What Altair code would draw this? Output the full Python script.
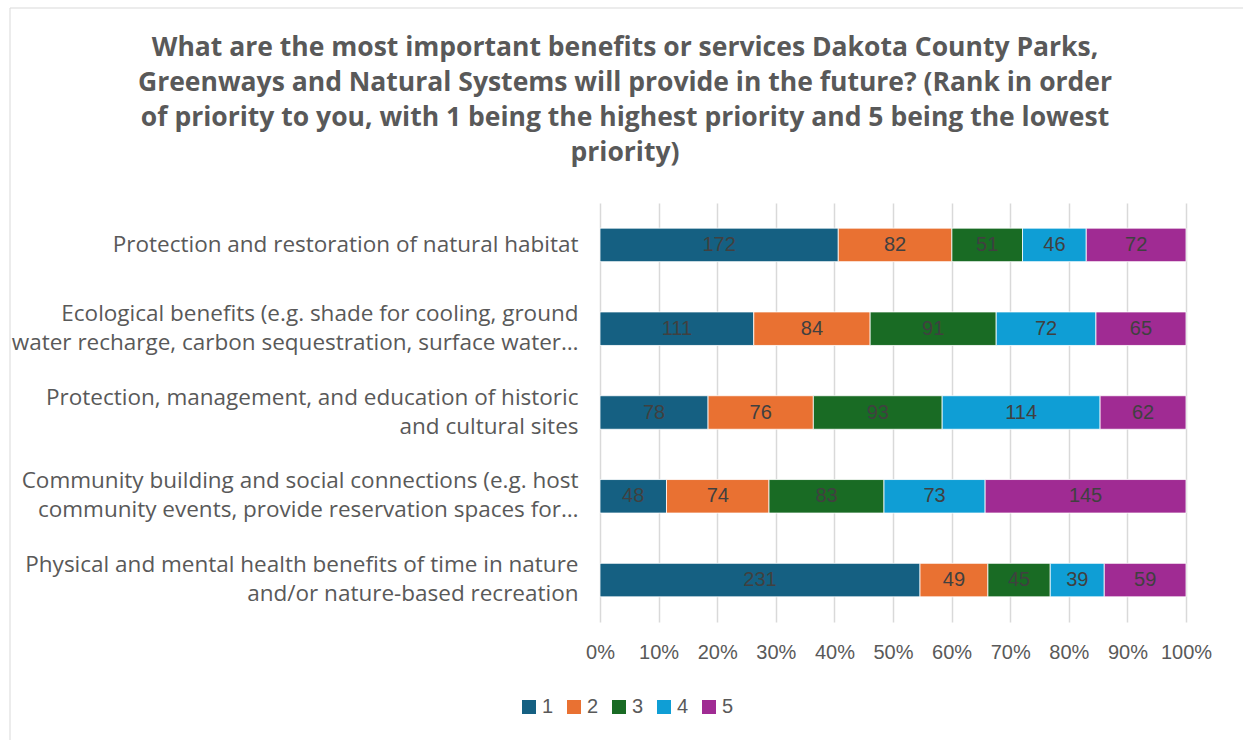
import altair as alt
import pandas as pd

categories = [
    "Protection and restoration of natural habitat",
    "Ecological benefits (e.g. shade for cooling, ground|water recharge, carbon sequestration, surface water…",
    "Protection, management, and education of historic|and cultural sites",
    "Community building and social connections (e.g. host|community events, provide reservation spaces for…",
    "Physical and mental health benefits of time in nature|and/or nature-based recreation",
]
ranks = ["1", "2", "3", "4", "5"]
rank1 = [172, 111, 78, 48, 231]
rank2 = [82, 84, 76, 74, 49]
rank3 = [51, 91, 93, 83, 45]
rank4 = [46, 72, 114, 73, 39]
rank5 = [72, 65, 62, 145, 59]
colors = ["#156082", "#E97132", "#196B24", "#0F9ED5", "#A02B93"]

title_lines = [
    "What are the most important benefits or services Dakota County Parks,",
    "Greenways and Natural Systems will provide in the future? (Rank in order",
    "of priority to you, with 1 being the highest priority and 5 being the lowest",
    "priority)",
]

rows = []
for series, r in zip([rank1, rank2, rank3, rank4, rank5], ranks):
    for c, v in zip(categories, series):
        rows.append({"category": c, "rank": r, "n": v})
df = pd.DataFrame(rows)

base = (
    alt.Chart(df)
    .transform_joinaggregate(total="sum(n)", groupby=["category"])
    .transform_window(cum="sum(n)", groupby=["category"],
                      sort=[alt.SortField("rank")], frame=[None, 0])
    .transform_calculate(
        start="(datum.cum - datum.n) / datum.total",
        end="datum.cum / datum.total",
        mid="(datum.cum - datum.n / 2) / datum.total",
    )
)

y_enc = alt.Y(
    "category:N",
    sort=categories,
    scale=alt.Scale(paddingInner=0.6, paddingOuter=0.3),
    axis=alt.Axis(
        title=None, ticks=False, domain=False, labelLimit=0,
        labelFontSize=22.5, labelFont="Open Sans", labelColor="#595959",
        labelPadding=22, labelLineHeight=29,
        labelOffset={"condition": {"test": "indexof(datum.label, '|') >= 0", "value": -15}, "value": 0},
        labelExpr="split(datum.label, '|')",
    ),
)

bars = base.mark_bar(stroke="white", strokeWidth=0.8).encode(
    y=y_enc,
    x=alt.X(
        "start:Q",
        scale=alt.Scale(domain=[0, 1], nice=False),
        axis=alt.Axis(
            title=None, format="%", values=[i / 10 for i in range(11)],
            grid=True, gridColor="#d9d9d9", gridWidth=1.5,
            domain=False, ticks=False, labelFlush=False,
            labelFontSize=20, labelFont="Liberation Sans",
            labelColor="#595959", labelPadding=20,
        ),
    ),
    x2="end:Q",
    color=alt.Color(
        "rank:N",
        scale=alt.Scale(domain=ranks, range=colors),
        legend=alt.Legend(
            title=None, orient="none", legendX=-81, legendY=494,
            direction="horizontal", symbolType="square", symbolSize=196,
            symbolStrokeWidth=0, labelFontSize=20, labelFont="Liberation Sans",
            labelColor="#595959", columnPadding=10, labelOffset=3,
        ),
    ),
)

texts = base.mark_text(font="Liberation Sans", fontSize=20, color="#404040").encode(
    y=alt.Y("category:N", sort=categories),
    x=alt.X("mid:Q"),
    text=alt.Text("n:Q"),
)

frame = alt.Chart(alt.Data(values=[{}])).mark_rect(
    fillOpacity=0, stroke="#d9d9d9", strokeWidth=1
).encode(
    x=alt.value(-590), x2=alt.value(700), y=alt.value(-195), y2=alt.value(600)
)

chart = (
    alt.layer(frame, bars, texts)
    .properties(
        width=586,
        height=419,
        autosize=alt.AutoSizeParams(type="none"),
        padding={"left": 600, "top": 203, "right": 57, "bottom": 118},
        background="white",
        title=alt.TitleParams(
            text=title_lines, fontSize=26.5, font="Open Sans", fontWeight="bold",
            color="#595959", anchor="middle", dx=-268, dy=199, offset=40,
            lineHeight=35,
        ),
    )
    .configure_view(stroke=None)
)

chart.save("out.html", embed_options={"renderer": "svg", "actions": False})
